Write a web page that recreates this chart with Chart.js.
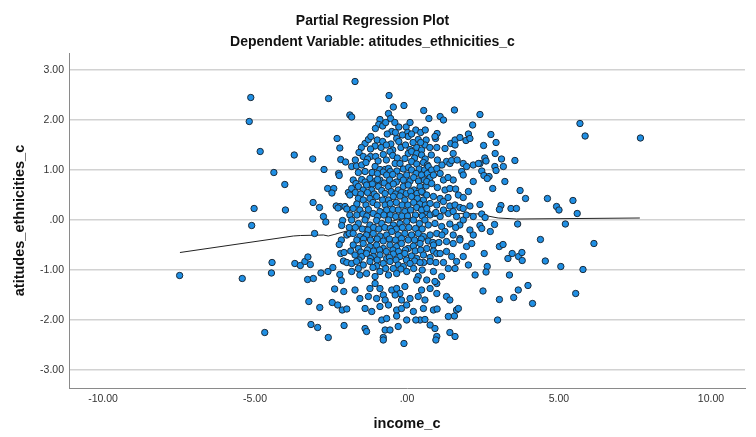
<!DOCTYPE html>
<html>
<head>
<meta charset="utf-8">
<script src="https://cdn.jsdelivr.net/npm/chart.js@4.4.1/dist/chart.umd.min.js"></script>
<style>
  html, body { margin: 0; padding: 0; background: #fff; }
  #wrap { width: 756px; height: 437px; }
</style>
</head>
<body>
<div id="wrap"><canvas id="chart"></canvas></div>
<script>
// income_c / atitudes_ethnicities_c residual pairs, grouped by area of the cloud
const leftCases = [
  [-5.14,2.45],[-2.58,2.43],[-5.19,1.97],[-2.3,1.63],[-2.21,1.44],[-4.83,1.37],[-3.71,1.30],[-3.10,1.22],
  [-2.18,1.21],[-2.02,1.16],[-2.73,1.01],[-4.38,0.95],[-2.25,0.93],[-2.23,0.89],[-4.02,0.71],[-2.61,0.63],
  [-2.41,0.63],[-2.47,0.54],[-1.93,0.55],[-3.09,0.35],[-2.88,0.25],[-5.03,0.23],[-4.0,0.2],[-2.33,0.28],
  [-2.2,0.27],[-2.04,0.27],[-1.98,0.22],[-2.27,0.24],[-2.75,0.07],[-2.67,-0.04],[-2.12,-0.01],[-2.15,-0.11],
  [-5.11,-0.11],[-3.04,-0.27],[-1.98,-0.30],[-1.9,-0.27],[-2.16,-0.40],[-2.23,-0.49],[-2.18,-0.67],[-2.07,-0.65],
  [-2.09,-0.82],[-1.98,-0.85],[-7.48,-1.11],[-5.42,-1.17],[-4.44,-0.85],[-4.46,-1.06],[-3.69,-0.87],[-3.51,-0.91],
  [-3.36,-0.83],[-3.26,-0.74],[-3.18,-0.89],[-3.27,-1.19],[-3.08,-1.17],[-2.83,-1.06],[-2.6,-1.03],[-2.44,-0.95],
  [-2.21,-1.09],[-2.16,-1.21],[-2.38,-1.38],[-2.08,-1.43],[-3.23,-1.63],[-2.87,-1.75],[-2.46,-1.65],[-2.28,-1.70],
  [-2.13,-1.80],[-1.98,-1.78],[-4.68,-2.25],[-3.16,-2.09],[-2.94,-2.15],[-2.59,-2.35],[-2.07,-2.11]
]

const rightCases = [
  [2.4,2.11],[5.69,1.93],[5.86,1.68],[7.68,1.64],[2.76,1.71],[2.52,1.49],[2.93,1.55],[2.56,1.24],
  [2.6,1.18],[2.4,1.13],[2.9,1.33],[3.11,1.22],[3.55,1.19],[2.89,1.07],[3.17,1.07],[2.93,0.99],
  [2.46,0.98],[2.53,0.89],[2.7,0.87],[2.64,0.83],[3.22,0.77],[2.82,0.63],[3.72,0.59],[3.9,0.43],
  [4.62,0.43],[5.46,0.39],[4.92,0.27],[5.0,0.2],[5.6,0.13],[3.09,0.29],[3.04,0.21],[3.42,0.23],
  [3.6,0.23],[2.4,0.31],[2.46,0.12],[2.57,0.05],[2.4,-0.11],[2.46,-0.17],[2.88,-0.09],[3.64,-0.08],
  [5.21,-0.08],[2.74,-0.23],[4.39,-0.39],[6.15,-0.47],[3.04,-0.53],[3.16,-0.49],[2.54,-0.67],[3.46,-0.67],
  [3.32,-0.77],[3.67,-0.73],[3.78,-0.65],[3.79,-0.81],[4.55,-0.82],[5.06,-0.93],[5.79,-0.99],[2.64,-0.93],
  [2.6,-1.04],[3.37,-1.1],[2.5,-1.42],[3.66,-1.4],[3.98,-1.31],[3.51,-1.55],[3.04,-1.59],[4.13,-1.67],
  [5.55,-1.47],[2.98,-2.0]
]

const coreUpper = [
  [-1.71,2.77],[-0.59,2.49],[-0.45,2.26],[-0.1,2.29],[-1.88,2.1],[-1.82,2.06],[-0.61,2.13],[-0.54,2.03],
  [0.55,2.19],[0.72,2.03],[1.09,2.07],[1.2,2.0],[1.56,2.2],[2.16,1.9],[-0.89,2.01],[-0.93,1.91],
  [-1.04,1.83],[-0.8,1.88],[-0.27,1.86],[-0.03,1.86],[0.02,1.75],[0.29,1.8],[-0.5,1.77],[0.99,1.73],
  [0.94,1.63],[2.02,1.72],[1.94,1.59],[-1.38,1.53],[-1.27,1.61],[-1.19,1.67],[-0.98,1.6],[-0.8,1.57],
  [-0.34,1.63],[-0.27,1.57],[0.04,1.67],[0.37,1.61],[0.63,1.6],[-1.05,1.48],[-0.53,1.52],[-0.47,1.4],
  [0.1,1.41],[0.32,1.45],[0.98,1.45],[1.25,1.43],[1.44,1.53],[1.58,1.6],[1.74,1.65],[2.07,1.63],
  [1.58,1.5],[0.59,1.5],[0.48,1.4],[0.92,1.67],
  [-0.65,1.72],[-0.38,1.75],[-0.15,1.7],[0.15,1.72],[0.45,1.75],[0.6,1.8],[-0.7,1.95],[-0.4,1.95],
  [0.1,1.95],[-1.5,1.45],[-1.2,1.42],[-0.85,1.45],[-0.68,1.5],[-0.2,1.45],[-0.05,1.5],[0.2,1.55],
  [0.45,1.55],[0.75,1.45],[0.8,1.3]
]

const coreLeft = [
  [-1.58,1.35],[-1.44,1.27],[-1.2,1.27],[-1.03,1.27],[-0.78,1.31],[-0.56,1.37],[-0.47,1.29],[0.04,1.33],
  [0.15,1.37],[0.32,1.33],[0.48,1.3],
  [-1.7,1.2],[-1.3,1.22],[-0.95,1.18],[-0.68,1.2],[-0.32,1.24],[0.25,1.24],[0.6,1.22],
  [-1.82,1.07],[-1.66,1.08],[-1.49,1.1],[-1.35,1.15],[-1.05,1.07],[-0.89,1.01],[-0.72,1.01],[-0.61,1.03],
  [-0.39,1.13],[-0.23,1.13],[-0.07,1.23],[0.15,1.17],[0.32,1.12],[0.54,1.15],[0.67,1.1],
  [-1.6,0.95],[-1.38,0.97],[-1.15,0.95],[-0.97,0.93],[-0.78,0.96],[-0.55,0.97],[-0.33,0.98],[-0.12,1.02],
  [0.05,1.05],[0.4,1.02],[0.58,1.0],
  [-1.77,0.8],[-1.49,0.81],[-1.22,0.83],[-1.05,0.77],[-0.89,0.8],[-0.67,0.9],[-0.47,0.91],[-0.23,0.87],
  [-0.01,0.9],[0.15,1.0],[0.3,0.93],[0.48,0.9],[0.67,0.93],
  [-1.68,0.73],[-1.38,0.76],[-1.14,0.72],[-0.97,0.81],[-0.75,0.74],[-0.57,0.8],[-0.35,0.76],[-0.12,0.8],
  [0.1,0.78],[0.22,0.85],[0.38,0.78],[0.57,0.8],
  [-1.82,0.63],[-1.6,0.67],[-1.44,0.6],[-1.33,0.7],[-1.16,0.6],[-0.94,0.67],[-0.83,0.59],[-0.61,0.67],
  [-0.45,0.72],[-0.29,0.6],[-0.12,0.67],[0.04,0.7],[0.23,0.6],[0.43,0.67],[0.63,0.68],
  [-1.7,0.55],[-1.52,0.52],[-1.3,0.55],[-1.08,0.52],[-0.72,0.53],[-0.52,0.57],[-0.38,0.52],[-0.18,0.55],
  [-0.02,0.53],[0.12,0.57],[0.33,0.53],[0.52,0.55],
  [-1.88,0.5],[-1.6,0.43],[-1.44,0.4],[-1.22,0.43],[-1.0,0.47],[-0.8,0.4],[-0.61,0.4],[-0.45,0.47],
  [-0.23,0.48],[-0.07,0.4],[0.15,0.47],[0.34,0.43],[0.54,0.4],
  [-1.65,0.32],[-1.35,0.3],[-1.12,0.35],[-0.98,0.3],[-0.72,0.3],[-0.55,0.33],[-0.35,0.35],[-0.16,0.3],
  [0.03,0.3],[0.22,0.35],[0.42,0.32],[0.6,0.3],
  [-1.77,0.23],[-1.55,0.2],[-1.27,0.21],[-1.11,0.13],[-0.89,0.17],[-0.67,0.2],[-0.47,0.21],[-0.29,0.2],
  [-0.07,0.17],[0.12,0.2],[0.32,0.25],[0.48,0.2],[0.67,0.15],
  [-1.88,0.1],[-1.65,0.1],[-1.45,0.12],[-1.32,0.08],[-0.97,0.07],[-0.76,0.1],[-0.55,0.1],[-0.37,0.07],
  [-0.17,0.08],[0.02,0.08],[0.28,0.1],[0.5,0.08],
  [-1.82,0.0],[-1.6,-0.07],[-1.38,0.0],[-1.22,-0.1],[-1.0,-0.01],[-0.83,-0.07],[-0.61,0.0],[-0.45,-0.1],
  [-0.23,-0.07],[-0.01,-0.03],[0.21,0.0],[0.41,-0.07],[0.59,0.0],
  [-1.9,-0.15],[-1.7,-0.15],[-1.47,-0.18],[-1.28,-0.2],[-1.1,-0.15],[-0.93,-0.18],[-0.73,-0.15],[-0.55,-0.17],
  [-0.35,-0.18],[-0.15,-0.15],[0.06,-0.15],[0.28,-0.17],[0.5,-0.18],
  [-1.77,-0.27],[-1.55,-0.33],[-1.33,-0.3],[-1.11,-0.27],[-0.89,-0.32],[-0.67,-0.3],[-0.5,-0.23],[-0.29,-0.3],
  [-0.07,-0.27],[0.15,-0.3],[0.37,-0.27],[0.54,-0.33],
  [-1.65,-0.4],[-1.43,-0.38],[-1.2,-0.4],[-0.98,-0.38],[-0.78,-0.42],[-0.58,-0.38],[-0.38,-0.4],[-0.18,-0.37],
  [0.04,-0.4],[0.25,-0.4],[0.47,-0.38],[0.7,-0.42]
]

const coreRight = [
  [1.52,1.33],[1.3,1.17],[1.41,1.13],[1.47,1.19],[1.85,1.13],[1.96,1.07],[2.18,1.1],[2.35,1.13],
  [0.7,1.07],[0.81,1.0],[0.98,1.03],[1.09,0.93],[0.76,0.85],[0.87,0.9],[0.65,0.77],[0.81,0.73],
  [1.8,0.97],[1.85,0.9],[1.52,0.8],[2.18,0.77],[1.25,0.6],[1.41,0.63],[2.02,0.57],[1.69,0.5],
  [0.48,0.57],[0.65,0.5],[0.87,0.47],[1.09,0.43],[0.76,0.33],[0.98,0.3],[1.2,0.37],[1.41,0.28],
  [1.58,0.3],[1.74,0.25],[1.85,0.23],[2.07,0.28],[0.65,0.23],[0.76,0.1],[0.92,0.13],[1.09,0.07],
  [1.36,0.13],[1.52,0.17],[1.63,0.07],[2.18,0.07],[0.7,-0.1],[0.92,-0.07],[1.14,-0.13],[1.41,-0.08],
  [1.74,-0.1],[1.85,0.0],[2.07,-0.2],[0.76,-0.3],[0.98,-0.27],[1.25,-0.23],[1.52,-0.3],[1.74,-0.37],
  [2.18,-0.3],
  [1.0,1.2],[1.15,1.1],[1.65,1.2],[1.2,0.8],[1.35,0.85],[1.0,0.65],[1.6,0.62],[1.35,0.45],
  [1.85,0.45],[0.95,0.15],[1.2,0.2],[1.95,0.1],[0.85,-0.45],[1.05,-0.45],[0.95,-0.85],[1.2,-0.85],
  [1.15,-0.3],[1.6,-0.15]
]

const coreLower = [
  [-1.77,-0.5],[-1.6,-0.57],[-1.44,-0.47],[-1.22,-0.53],[-1.0,-0.5],[-0.78,-0.57],[-0.56,-0.5],[-0.34,-0.53],
  [-0.18,-0.47],[0.04,-0.57],[0.21,-0.52],[0.43,-0.47],[0.65,-0.57],[0.87,-0.5],
  [-1.85,-0.62],[-1.52,-0.64],[-1.3,-0.6],[-1.1,-0.62],[-0.9,-0.6],[-0.68,-0.63],[-0.46,-0.6],[-0.28,-0.63],
  [-0.05,-0.6],[0.27,-0.62],[0.45,-0.6],[0.87,-0.62],
  [-1.71,-0.7],[-1.49,-0.73],[-1.33,-0.67],[-1.11,-0.73],[-0.89,-0.7],[-0.67,-0.77],[-0.45,-0.68],[-0.23,-0.73],
  [-0.07,-0.67],[0.15,-0.72],[0.32,-0.77],[0.54,-0.7],[0.76,-0.75],[0.98,-0.67],
  [-1.58,-0.8],[-1.2,-0.77],[-0.98,-0.8],[-0.58,-0.75],[-0.36,-0.8],[-0.02,-0.8],[0.25,-0.82],[0.55,-0.85],
  [-1.82,-0.87],[-1.66,-0.83],[-1.44,-0.9],[-1.22,-0.83],[-1.0,-0.92],[-0.78,-0.87],[-0.56,-0.83],[-0.29,-0.9],
  [-0.12,-0.93],[0.1,-0.87],[0.43,-0.85],[0.76,-0.83],
  [-1.6,-0.97],[-1.12,-0.95],[-0.7,-0.97],[-0.45,-0.97],[-0.2,-0.98],[0.22,-0.97],[0.5,-1.0],
  [-1.82,-1.03],[-1.55,-1.1],[-1.33,-1.07],[-1.05,-1.13],[-0.89,-1.03],[-0.61,-1.1],[-0.34,-1.07],[-0.01,-1.03],
  [0.37,-1.13],[0.65,-1.2],[0.87,-1.03],
  [-1.71,-1.4],[-1.22,-1.37],[-1.05,-1.27],[-0.89,-1.37],[-0.78,-1.5],[-0.5,-1.4],[-0.34,-1.37],[-0.23,-1.47],
  [-0.07,-1.33],[0.32,-1.2],[0.48,-1.4],[0.76,-1.37],[0.98,-1.27],
  [-1.55,-1.57],[-1.27,-1.53],[-1.0,-1.57],[-0.72,-1.6],[-0.39,-1.5],[-0.18,-1.6],[0.1,-1.57],[0.37,-1.53],
  [0.59,-1.6],
  [-1.38,-1.77],[-1.16,-1.83],[-0.89,-1.73],[-0.61,-1.7],[-0.34,-1.8],[-0.18,-1.77],[-0.01,-1.7],[0.21,-1.83],
  [0.54,-1.77],[0.87,-1.8],
  [-0.83,-2.0],[-0.67,-1.97],[-0.34,-1.92],[-0.01,-2.0],[0.43,-2.0],[0.59,-1.99],
  [-1.38,-2.17],[-1.33,-2.23],[-0.72,-2.2],[-0.56,-2.2],[-0.29,-2.13],[0.76,-2.1],[0.92,-2.17],[-0.78,-2.35],
  [1.3,-0.43],[1.52,-0.47],[1.74,-0.4],[1.96,-0.53],[2.13,-0.47],[1.09,-0.67],[1.3,-0.63],[1.47,-0.73],
  [1.63,-0.83],[1.85,-0.73],[2.02,-0.9],[2.24,-1.1],[1.14,-1.13],[0.92,-1.23],[1.36,-0.97],[1.58,-0.97],
  [0.98,-1.47],[1.3,-1.53],[1.41,-1.6],[0.99,-1.78],[1.36,-1.93],[1.56,-1.92],[1.63,-1.8],[1.69,-1.77],
  [0.29,-2.0],[0.98,-2.33],[0.95,-2.4],[1.41,-2.25],[1.58,-2.33],[-0.1,-2.47],[-0.78,-2.4]
]

// loess fit line
const fitX = [-7.47, -3.74, -3.5, -2.75, -2.59, -2.4, -1.98, -1.0, 0.0, 1.0, 2.0, 2.4, 2.57, 3.0, 3.6, 7.66]
const fitY = [-0.65, -0.32, -0.31, -0.30, -0.32, -0.29, -0.22, -0.08, 0.04, 0.12, 0.13, 0.12, 0.09, 0.04, 0.02, 0.04]

const xTicks = [-10, -5, 0, 5, 10]
const yTicks = [-3, -2, -1, 0, 1, 2, 3]

const fontFamily = "'Liberation Sans', Arial, sans-serif"
const fmt = v => v === 0 ? ".00" : v.toFixed(2)

const cases = [...leftCases, ...rightCases, ...coreUpper, ...coreLeft, ...coreRight, ...coreLower]
  .map(([x, y]) => ({ x, y }))
const fit = fitX.map((x, i) => ({ x, y: fitY[i] }))

new Chart(document.getElementById("chart"), {
  type: "scatter",
  data: {
    datasets: [{
      label: "cases",
      data: cases,
      backgroundColor: "#1f8fe4",
      borderColor: "#1c2a38",
      borderWidth: 1,
      pointRadius: 3.2,
      pointHoverRadius: 3.2
    }, {
      label: "fit",
      data: fit,
      showLine: true,
      borderColor: "#222",
      borderWidth: 1,
      pointRadius: 0,
      tension: 0
    }]
  },
  options: {
    responsive: true,
    maintainAspectRatio: false,
    animation: false,
    devicePixelRatio: 1,
    events: [],
    layout: { padding: { left: 0, right: 11, top: 0, bottom: 0 } },
    plugins: {
      legend: { display: false },
      tooltip: { enabled: false },
      title: {
        display: true,
        text: ["Partial Regression Plot", "Dependent Variable: atitudes_ethnicities_c"],
        color: "#111",
        font: { family: fontFamily, size: 14, weight: "bold", lineHeight: 1.5 },
        padding: { top: 11, bottom: 0 }
      }
    },
    scales: {
      x: {
        type: "linear",
        min: -11.12,
        max: 11.12,
        afterBuildTicks: s => { s.ticks = xTicks.map(value => ({ value })) },
        afterFit: s => { s.height = 49 },
        grid: { display: false, drawTicks: false },
        border: { color: "#8a8a8a", width: 1 },
        ticks: { callback: fmt, padding: 5, color: "#333", font: { family: fontFamily, size: 10.5 } },
        title: {
          display: true,
          text: "income_c",
          color: "#111",
          font: { family: fontFamily, size: 14.5, weight: "bold" },
          padding: { top: 0, bottom: 4 }
        }
      },
      y: {
        type: "linear",
        min: -3.36,
        max: 3.34,
        afterBuildTicks: s => { s.ticks = yTicks.map(value => ({ value })) },
        afterFit: s => { s.width = 69 },
        grid: { color: "#d2d2d2", lineWidth: 1.5, drawTicks: false },
        border: { color: "#8a8a8a", width: 1 },
        ticks: { callback: fmt, padding: 5, color: "#333", font: { family: fontFamily, size: 10.5 } },
        title: {
          display: true,
          text: "atitudes_ethnicities_c",
          color: "#111",
          font: { family: fontFamily, size: 14.5, weight: "bold" },
          padding: { top: 11, bottom: 0 }
        }
      }
    }
  }
})
</script>
</body>
</html>
